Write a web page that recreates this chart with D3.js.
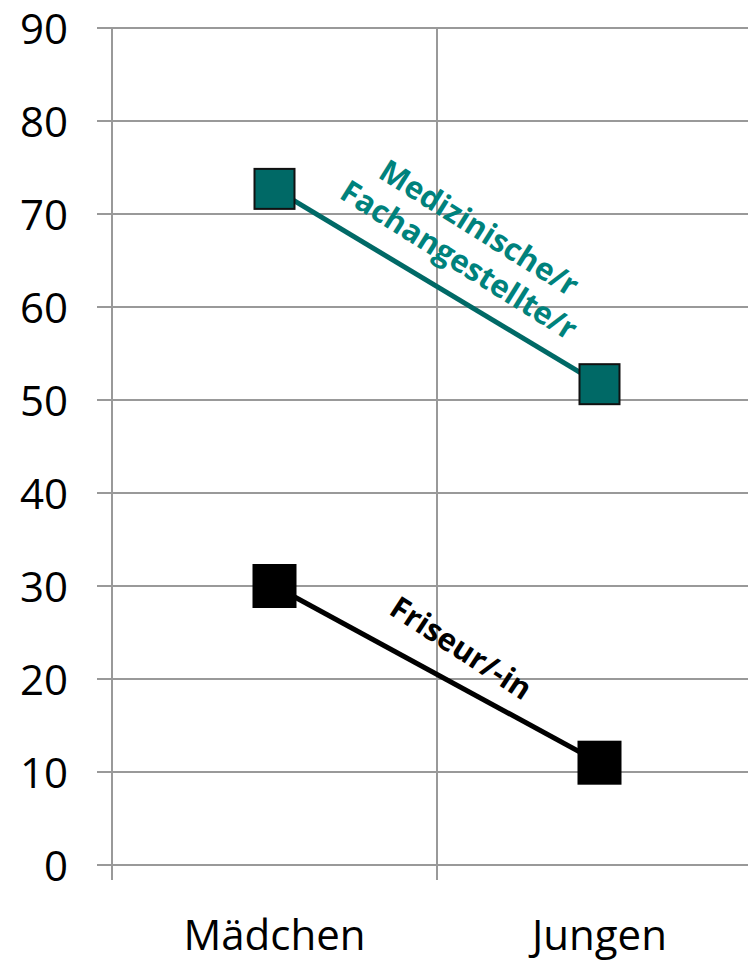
<!DOCTYPE html>
<html>
<head>
<meta charset="utf-8">
<script src="https://cdn.jsdelivr.net/npm/d3@7"></script>
<style>
  html, body { margin: 0; padding: 0; background: #fff; }
  svg { display: block; }
</style>
</head>
<body>
<svg id="chart" width="748" height="963"></svg>
<script>
// Share of girls / boys per occupation (percent)
const categories = ["Mädchen", "Jungen"];
const yTicks = [0, 10, 20, 30, 40, 50, 60, 70, 80, 90];
const medizinischeValues = [72.7, 51.7];
const friseurValues = [30.0, 11.0];
const seriesNames = ["Medizinische/r Fachangestellte/r", "Friseur/-in"];

const series = [
  { name: seriesNames[0], values: medizinischeValues, color: "#006966", text: "#00827c",
    lines: ["Medizinische/r", "Fachangestellte/r"], markerSize: 40, markerStroke: "#111" },
  { name: seriesNames[1], values: friseurValues, color: "#000000", text: "#000000",
    lines: ["Friseur/-in"], markerSize: 42, markerStroke: "#000" }
];

const svg = d3.select("#chart");
const plot = { left: 112, right: 762, top: 28, bottom: 865 };

const x = d3.scaleBand().domain(categories).range([plot.left, plot.right]).paddingInner(0).paddingOuter(0);
const y = d3.scaleLinear().domain([0, 90]).range([plot.bottom, plot.top]);
const cx = c => x(c) + x.bandwidth() / 2;

const grid = "#999999";
const font = "'Open Sans', 'Noto Sans', sans-serif";

// horizontal gridlines with outward tick
svg.append("g").selectAll("line").data(yTicks).join("line")
  .attr("x1", plot.left - 15).attr("x2", 748)
  .attr("y1", d => y(d)).attr("y2", d => y(d))
  .attr("stroke", grid).attr("stroke-width", 2);

// vertical category boundaries, extended below the axis as ticks
const bounds = categories.map(c => x(c)).concat([x(categories[categories.length - 1]) + x.bandwidth()]);
svg.append("g").selectAll("line").data(bounds).join("line")
  .attr("x1", d => d).attr("x2", d => d)
  .attr("y1", plot.top).attr("y2", plot.bottom + 15)
  .attr("stroke", grid).attr("stroke-width", 2);

// y tick labels
svg.append("g").selectAll("text").data(yTicks).join("text")
  .attr("x", 68).attr("y", d => y(d))
  .attr("dy", "0.37em")
  .attr("text-anchor", "end")
  .attr("font-family", font).attr("font-size", 42)
  .attr("fill", "#000")
  .text(d => d);

// x category labels
svg.append("g").selectAll("text").data(categories).join("text")
  .attr("x", d => cx(d)).attr("y", 950)
  .attr("text-anchor", "middle")
  .attr("font-family", font).attr("font-size", 42)
  .attr("fill", "#000")
  .text(d => d);

// series lines and square markers
const line = d3.line().x((d, i) => cx(categories[i])).y(d => y(d));
series.forEach(s => {
  svg.append("path").datum(s.values)
    .attr("d", line).attr("fill", "none")
    .attr("stroke", s.color).attr("stroke-width", 5);
  svg.append("g").selectAll("rect").data(s.values).join("rect")
    .attr("x", (d, i) => cx(categories[i]) - s.markerSize / 2)
    .attr("y", d => y(d) - s.markerSize / 2)
    .attr("width", s.markerSize).attr("height", s.markerSize)
    .attr("fill", s.color)
    .attr("stroke", s.markerStroke).attr("stroke-width", 2);
});

// rotated series labels along the lines
function seriesLabel(s, px, py, angle, size, lineGap) {
  const g = svg.append("g").attr("transform", `translate(${px},${py}) rotate(${angle})`);
  g.selectAll("text").data(s.lines).join("text")
    .attr("x", 0).attr("y", (d, i) => (i - (s.lines.length - 1) / 2) * lineGap)
    .attr("dy", "0.35em")
    .attr("text-anchor", "middle")
    .attr("font-family", font).attr("font-weight", "bold")
    .attr("font-size", size).attr("fill", s.text)
    .text(d => d);
}
seriesLabel(series[0], 469, 244, 32, 31, 38);
seriesLabel(series[1], 461, 648, 33, 31, 38);
</script>
</body>
</html>
